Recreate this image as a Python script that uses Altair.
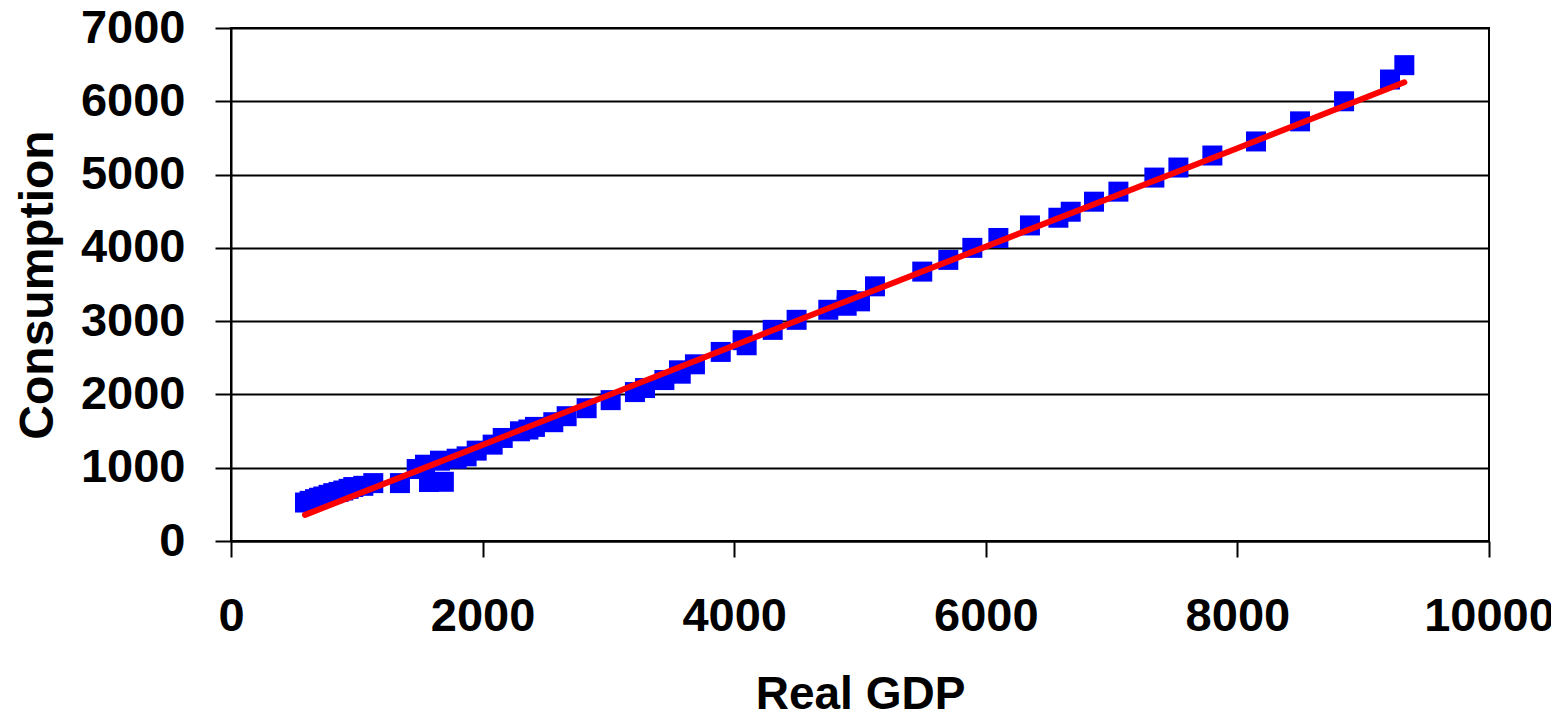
import altair as alt
import pandas as pd

gdp = [588, 625, 668, 700, 734, 775, 813, 855, 893, 935, 972, 1052, 1131, 1343,
       1476, 1542, 1574, 1661, 1692, 1794, 1873, 1953, 2080, 2160, 2297, 2364,
       2416, 2562, 2668, 2827, 3018, 3211, 3291, 3445, 3561, 3575, 3688, 3893,
       4067, 4099, 4306, 4496, 4748, 4894, 4894, 5000, 5119, 5495, 5702, 5893,
       6100, 6351, 6577, 6675, 6860, 7054, 7340, 7531, 7801, 8148, 8498, 8848,
       9213, 9327]
consumption = [525, 548, 571, 590, 607, 630, 653, 670, 689, 712, 736, 753, 790, 790,
               982, 1041, 805, 1096, 808, 1123, 1155, 1233, 1315, 1406, 1497, 1521,
               1557, 1621, 1703, 1812, 1922, 2032, 2087, 2196, 2329, 2283, 2411, 2580,
               2740, 2671, 2881, 3018, 3155, 3288, 3210, 3270, 3475, 3676, 3836, 4000,
               4135, 4306, 4411, 4493, 4630, 4767, 4959, 5096, 5260, 5452, 5726, 6000,
               6297, 6493]

fit_gdp = [588, 1558, 4785, 8000, 9327]
fit_consumption = [356, 1011, 3200, 5360, 6260]

x_ticks = [0, 2000, 4000, 6000, 8000, 10000]
y_ticks = [0, 1000, 2000, 3000, 4000, 5000, 6000, 7000]

pts = pd.DataFrame({"gdp": gdp, "cons": consumption})
fit = pd.DataFrame({"gdp": fit_gdp, "cons": fit_consumption})

FONT = "Liberation Sans"

xs = alt.Scale(domain=[0, 10000], nice=False)
ys = alt.Scale(domain=[0, 7000], nice=False)

xaxis = alt.Axis(values=x_ticks, title="Real GDP", grid=False, tickSize=16,
                 labelPadding=36, titlePadding=33, titleFontSize=46,
                 format="d", labelFlush=False)
yaxis = alt.Axis(values=y_ticks, title="Consumption", grid=True, tickSize=16,
                 labelPadding=30, titlePadding=18, titleFontSize=48,
                 format="d", labelFlush=False)

points = alt.Chart(pts).mark_square(size=400, filled=True, color="#0000FF", opacity=1).encode(
    x=alt.X("gdp:Q", scale=xs, axis=xaxis),
    y=alt.Y("cons:Q", scale=ys, axis=yaxis),
)

line = alt.Chart(fit).mark_line(color="#FF0000", strokeWidth=6, strokeCap="round").encode(
    x=alt.X("gdp:Q", scale=xs),
    y=alt.Y("cons:Q", scale=ys),
)

chart = alt.layer(points, line).properties(
    width=1258, height=513,
    autosize=alt.AutoSizeParams(type="none"),
    padding={"left": 223, "top": 20, "right": 62, "bottom": 171},
    background="white",
).configure_view(
    stroke="black", strokeWidth=2
).configure_axis(
    domainColor="black", domainWidth=2, tickColor="black", tickWidth=2,
    gridColor="black", gridWidth=2, gridOpacity=1,
    labelFont=FONT, labelFontSize=47, labelFontWeight="bold", labelColor="black",
    titleFont=FONT, titleFontWeight="bold", titleColor="black",
)

chart.save("out.html", embed_options={"renderer": "svg", "actions": False})
